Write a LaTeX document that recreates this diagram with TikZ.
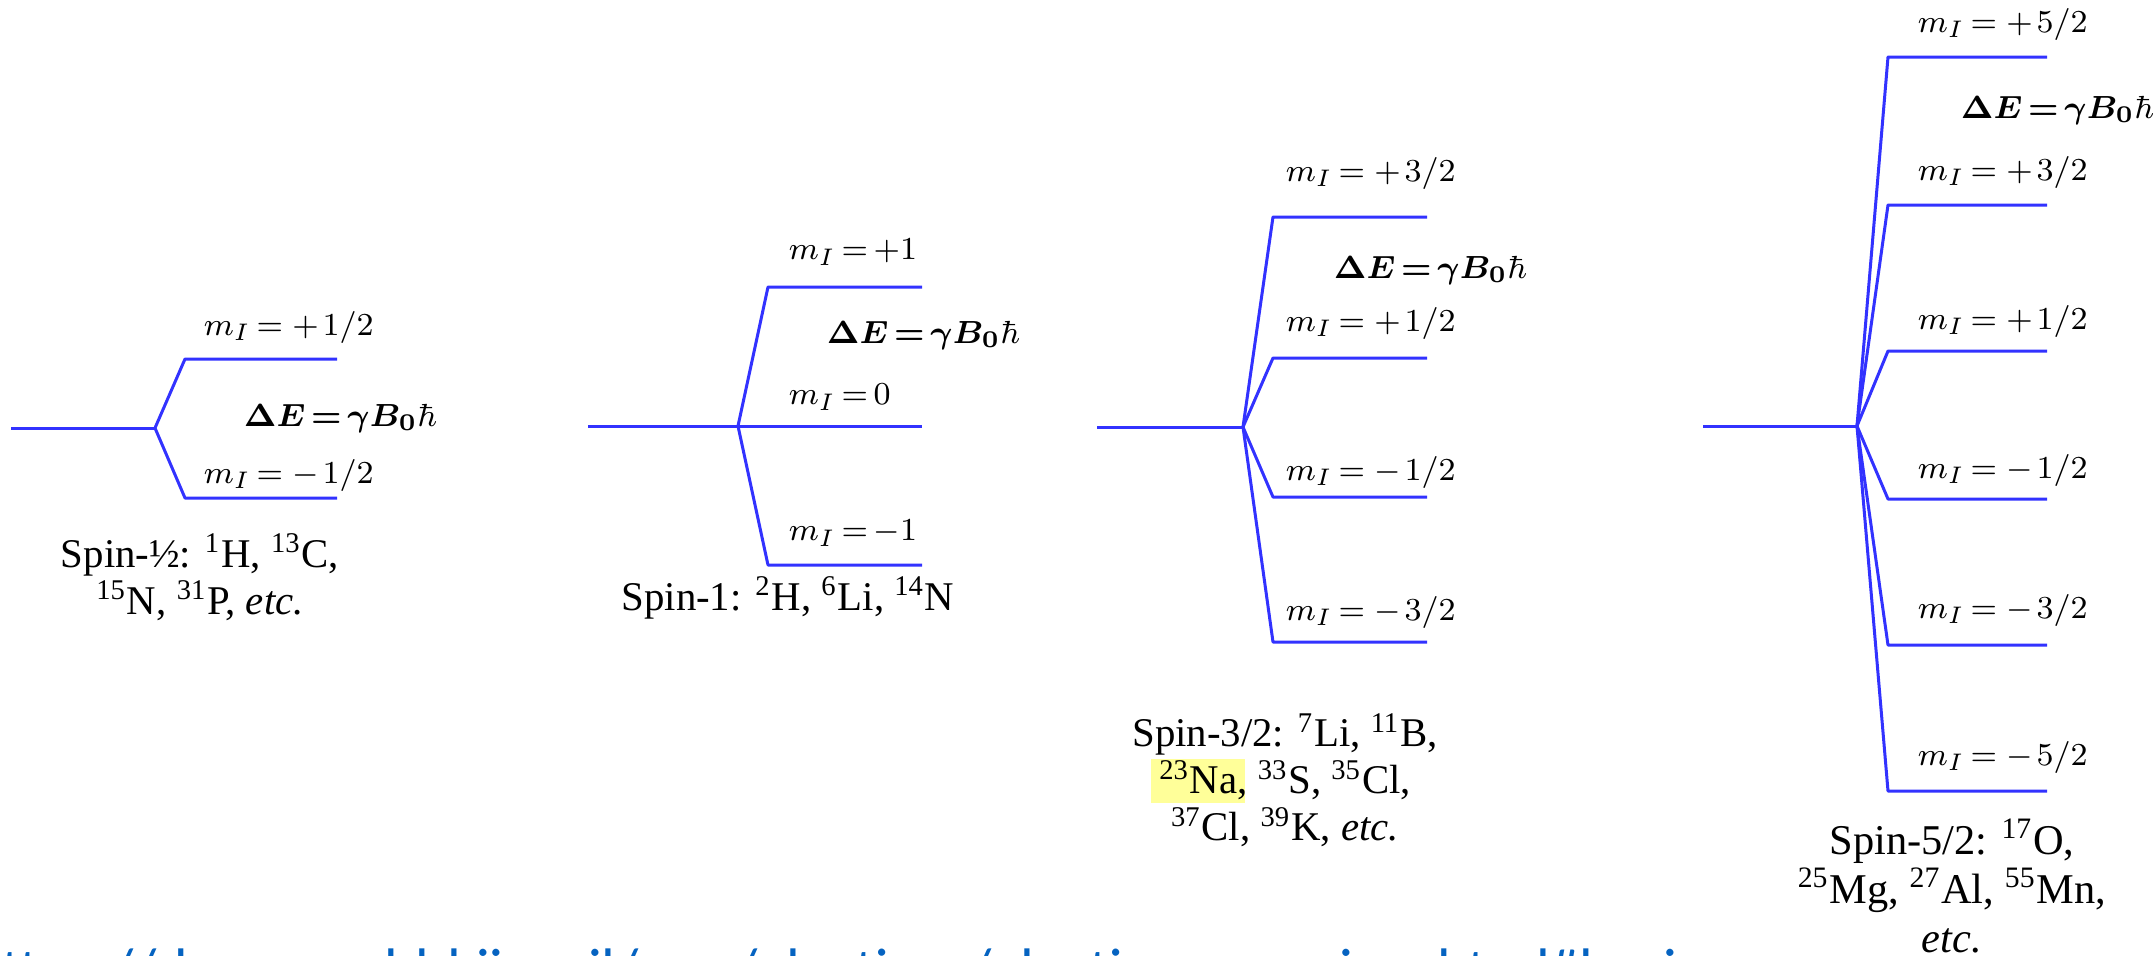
\documentclass[tikz,border=0pt]{standalone}
\usepackage{amsmath,bm}
\usepackage[no-math]{fontspec}
\setmainfont{Liberation Serif}
\newfontfamily\urlfont{Carlito}
\definecolor{lineblue}{RGB}{50,50,255}
\definecolor{urlblue}{RGB}{5,99,193}
\definecolor{hlyellow}{RGB}{255,255,153}
\newcommand{\tightmath}{\thickmuskip=3mu plus 1mu\medmuskip=2mu}
\begin{document}
\begin{tikzpicture}[x=0.25pt,y=-0.25pt,
  lvl/.style={draw=lineblue,line width=0.75pt,line join=round},
  lab/.style={anchor=west,inner sep=0pt,font=\fontsize{8.5}{10}\selectfont\tightmath},
  de/.style={anchor=west,inner sep=0pt,font=\fontsize{8.4}{10}\selectfont\tightmath},
  spin/.style={align=center,inner sep=0pt,font=\fontsize{10.2}{11.75}\selectfont},
  urltext/.style={anchor=base west,inner sep=0pt,text=urlblue,font=\urlfont\fontsize{15}{18}\selectfont}]
\useasboundingbox (0,0) rectangle (2156,955);
\clip (0,0) rectangle (2156,955);
\fill[white] (0,0) rectangle (2156,955);

% ---------- Spin-1/2 ----------
\coordinate (a0) at (11,428);
\coordinate (ab) at (155,428);
\coordinate (au1) at (185,359); \coordinate (au2) at (337,359);
\coordinate (ad1) at (185,498); \coordinate (ad2) at (337,498);
\draw[lvl] (a0) -- (ab);
\draw[lvl] (ab) -- (au1) -- (au2);
\draw[lvl] (ab) -- (ad1) -- (ad2);
\node[lab] (alu) at (203,327) {$m_I = {}+{} 1/2$};
\node[lab] (ald) at (203,475) {$m_I = {}-{} 1/2$};
\node[de] (ade) at (243,418) {$\bm{\Delta E = \gamma B_0}\hbar$};
\node[spin] (aspin) at (200,577) {Spin-½: \textsuperscript{1}H, \textsuperscript{13}C,\\ \textsuperscript{15}N, \textsuperscript{31}P, \textit{etc.}};

% ---------- Spin-1 ----------
\coordinate (b0) at (588,426);
\coordinate (bb) at (738,426);
\coordinate (bm) at (922,426);
\coordinate (bu1) at (768,287); \coordinate (bu2) at (922,287);
\coordinate (bd1) at (768,565); \coordinate (bd2) at (922,565);
\draw[lvl] (b0) -- (bb) -- (bm);
\draw[lvl] (bb) -- (bu1) -- (bu2);
\draw[lvl] (bb) -- (bd1) -- (bd2);
\node[lab] (blu) at (788,252) {$m_I = +1$};
\node[lab] (blm) at (788,397) {$m_I = 0$};
\node[lab] (bld) at (788,533) {$m_I = -1$};
\node[de] (bde) at (826,335) {$\bm{\Delta E = \gamma B_0}\hbar$};
\node[spin] (bspin) at (788,598) {Spin-1: \textsuperscript{2}H, \textsuperscript{6}Li, \textsuperscript{14}N};

% ---------- Spin-3/2 ----------
\coordinate (c0) at (1097,427);
\coordinate (cb) at (1243,427);
\foreach \i/\y in {1/217,2/358,3/497,4/642}{
  \coordinate (c\i s) at (1273,\y);
  \coordinate (c\i e) at (1427,\y);
  \draw[lvl] (cb) -- (c\i s) -- (c\i e);
}
\draw[lvl] (c0) -- (cb);
\node[lab] (cl1) at (1285,173) {$m_I = {}+{} 3/2$};
\node[lab] (cl2) at (1285,323) {$m_I = {}+{} 1/2$};
\node[lab] (cl3) at (1285,472) {$m_I = {}-{} 1/2$};
\node[lab] (cl4) at (1285,612) {$m_I = {}-{} 3/2$};
\node[de] (cde) at (1333,270) {$\bm{\Delta E = \gamma B_0}\hbar$};
\fill[hlyellow] (1151,759) rectangle (1245,803);
\node[spin] (cspin) at (1285,780) {Spin-3/2: \textsuperscript{7}Li, \textsuperscript{11}B,\\ \textsuperscript{23}Na, \textsuperscript{33}S, \textsuperscript{35}Cl,\\ \textsuperscript{37}Cl, \textsuperscript{39}K, \textit{etc.}};

% ---------- Spin-5/2 ----------
\coordinate (d0) at (1703,426);
\coordinate (db) at (1857,426);
\foreach \i/\y in {1/57,2/205,3/351,4/499,5/645,6/791}{
  \coordinate (d\i s) at (1888,\y);
  \coordinate (d\i e) at (2047,\y);
  \draw[lvl] (db) -- (d\i s) -- (d\i e);
}
\draw[lvl] (d0) -- (db);
\node[lab] (dl1) at (1917,24) {$m_I = {}+{} 5/2$};
\node[lab] (dl2) at (1917,172) {$m_I = {}+{} 3/2$};
\node[lab] (dl3) at (1917,321) {$m_I = {}+{} 1/2$};
\node[lab] (dl4) at (1917,470) {$m_I = {}-{} 1/2$};
\node[lab] (dl5) at (1917,610) {$m_I = {}-{} 3/2$};
\node[lab] (dl6) at (1917,757) {$m_I = {}-{} 5/2$};
\node[de] (dde) at (1960,110) {$\bm{\Delta E = \gamma B_0}\hbar$};
\node[spin,font=\fontsize{10.6}{12.3}\selectfont] (dspin) at (1952,886) {Spin-5/2: \textsuperscript{17}O,\\ \textsuperscript{25}Mg, \textsuperscript{27}Al, \textsuperscript{55}Mn,\\ \textit{etc.}};

% ---------- clipped URL ----------
\node[urltext] (url) at (-30,990) {https://dsomeonbbl.ii.ac.il/mm/electives/electivesoverview.html\#basics};
\end{tikzpicture}
\end{document}
